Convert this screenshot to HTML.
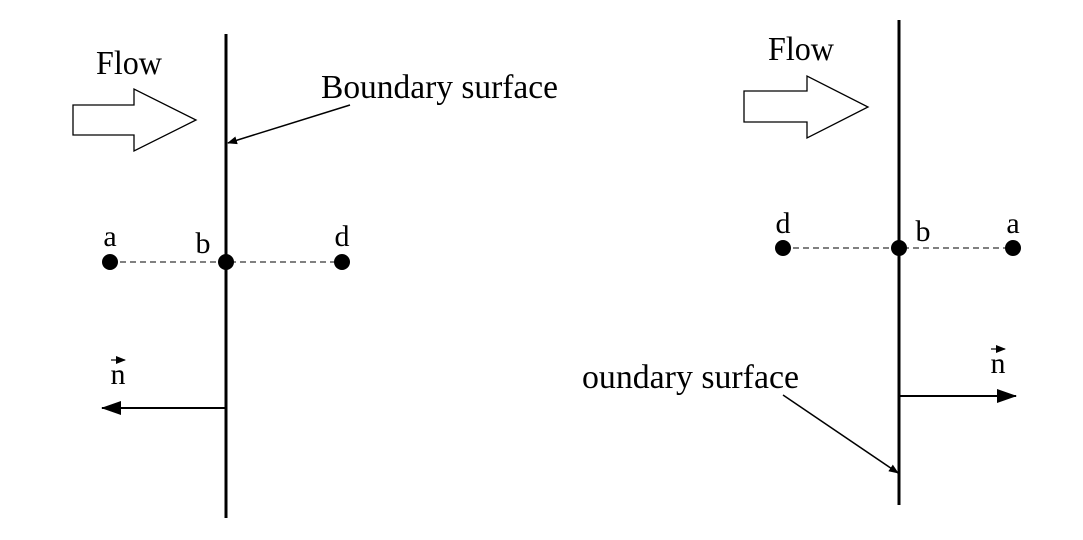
<!DOCTYPE html>
<html><head><meta charset="utf-8"><style>
html,body{margin:0;padding:0;background:#fff;}
svg{display:block;}
text{font-family:"Liberation Serif",serif;fill:#000;}
</style></head><body>
<svg width="1083" height="540" viewBox="0 0 1083 540">
<defs>
<marker id="ah" markerWidth="10" markerHeight="8" refX="9" refY="4" orient="auto" markerUnits="userSpaceOnUse">
<path d="M0,0 L10,4 L0,8 Z" fill="#000"/></marker>
<marker id="ahs" markerWidth="20" markerHeight="14" refX="19" refY="7" orient="auto" markerUnits="userSpaceOnUse">
<path d="M0,0 L20,7 L0,14 Z" fill="#000"/></marker>
</defs>
<g>
<line x1="226" y1="34" x2="226" y2="518" stroke="#000" stroke-width="3"/>
<text x="96" y="74" font-size="34" textLength="66" lengthAdjust="spacingAndGlyphs">Flow</text>
<polygon points="73,105 134,105 134,89 196,120 134,151 134,135 73,135" fill="#fff" stroke="#000" stroke-width="1.3"/>
<text x="321" y="98" font-size="34" textLength="237" lengthAdjust="spacingAndGlyphs">Boundary surface</text>
<line x1="350" y1="105" x2="228" y2="143" stroke="#000" stroke-width="1.5" marker-end="url(#ah)"/>
<line x1="110" y1="262" x2="342" y2="262" stroke="#000" stroke-width="1" stroke-dasharray="6,4"/>
<circle cx="110" cy="262" r="8"/>
<circle cx="226" cy="262" r="8"/>
<circle cx="342" cy="262" r="8"/>
<text x="110" y="246" font-size="30" text-anchor="middle">a</text>
<text x="203" y="253" font-size="30" text-anchor="middle">b</text>
<text x="342" y="246" font-size="30" text-anchor="middle">d</text>
<line x1="226" y1="408" x2="102" y2="408" stroke="#000" stroke-width="2" marker-end="url(#ahs)"/>
<text x="118" y="384" font-size="30" text-anchor="middle">n</text>
<line x1="111" y1="360" x2="125" y2="360" stroke="#000" stroke-width="1.2" marker-end="url(#ah)"/>
</g>
<g>
<line x1="899" y1="20" x2="899" y2="505" stroke="#000" stroke-width="3"/>
<text x="768" y="60" font-size="34" textLength="66" lengthAdjust="spacingAndGlyphs">Flow</text>
<polygon points="744,91 807,91 807,76 868,107 807,138 807,122 744,122" fill="#fff" stroke="#000" stroke-width="1.3"/>
<line x1="783" y1="248" x2="1013" y2="248" stroke="#000" stroke-width="1" stroke-dasharray="6,4"/>
<circle cx="783" cy="248" r="8"/>
<circle cx="899" cy="248" r="8"/>
<circle cx="1013" cy="248" r="8"/>
<text x="783" y="233" font-size="30" text-anchor="middle">d</text>
<text x="923" y="241" font-size="30" text-anchor="middle">b</text>
<text x="1013" y="233" font-size="30" text-anchor="middle">a</text>
<line x1="899" y1="396" x2="1016" y2="396" stroke="#000" stroke-width="2" marker-end="url(#ahs)"/>
<text x="998" y="373" font-size="30" text-anchor="middle">n</text>
<line x1="991" y1="349" x2="1005" y2="349" stroke="#000" stroke-width="1.2" marker-end="url(#ah)"/>
<text x="582" y="388" font-size="34" textLength="217" lengthAdjust="spacingAndGlyphs">oundary surface</text>
<line x1="783" y1="395" x2="898" y2="473" stroke="#000" stroke-width="1.5" marker-end="url(#ah)"/>
</g>
</svg>
</body></html>
